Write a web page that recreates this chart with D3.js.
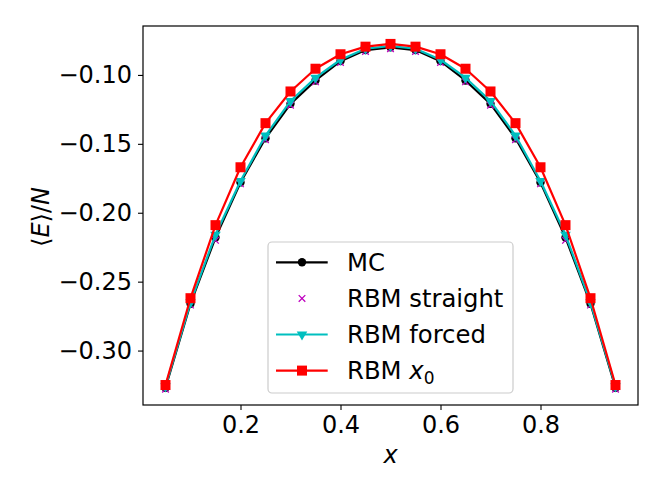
<!DOCTYPE html>
<html>
<head>
<meta charset="utf-8">
<script src="https://cdn.jsdelivr.net/npm/d3@7"></script>
<style>
  body { margin: 0; background: #fff; }
  svg { font-family: "DejaVu Sans", sans-serif; }
</style>
</head>
<body>
<svg id="chart" width="664" height="498"></svg>
<script>
const xs = [0.05, 0.10, 0.15, 0.20, 0.25, 0.30, 0.35, 0.40, 0.45, 0.50,
            0.55, 0.60, 0.65, 0.70, 0.75, 0.80, 0.85, 0.90, 0.95];
const mc       = [-0.327, -0.266, -0.218, -0.178, -0.146, -0.121, -0.104, -0.090, -0.082, -0.080,
                  -0.082, -0.090, -0.104, -0.121, -0.146, -0.178, -0.218, -0.266, -0.327];
const straight = [-0.328, -0.267, -0.220, -0.179, -0.147, -0.122, -0.105, -0.091, -0.083, -0.081,
                  -0.083, -0.091, -0.105, -0.122, -0.147, -0.179, -0.220, -0.267, -0.328];
const forced   = [-0.326, -0.265, -0.216, -0.177, -0.144, -0.119, -0.102, -0.089, -0.081, -0.079,
                  -0.081, -0.089, -0.102, -0.119, -0.144, -0.177, -0.216, -0.265, -0.326];
const x0       = [-0.325, -0.262, -0.209, -0.167, -0.135, -0.112, -0.0955, -0.085, -0.0795, -0.0775,
                  -0.0795, -0.085, -0.0955, -0.112, -0.135, -0.167, -0.209, -0.262, -0.325];
const xTicks = [0.2, 0.4, 0.6, 0.8];
const yTicks = [-0.30, -0.25, -0.20, -0.15, -0.10];

const mLeft = 143, mRight = 638, mTop = 26, mBottom = 405;

const svg = d3.select("#chart");

const x = d3.scaleLinear().domain([0.005, 0.995]).range([mLeft, mRight]);
const y = d3.scaleLinear().domain([-0.3395, -0.0645]).range([mBottom, mTop]);

// axes
svg.append("g")
    .attr("transform", `translate(0,${mBottom})`)
    .call(d3.axisBottom(x).tickValues(xTicks).tickSize(5).tickPadding(6)
        .tickFormat(d => d.toFixed(1)))
    .call(g => g.select(".domain").remove())
    .call(g => g.selectAll("line").attr("stroke", "#000").attr("stroke-width", 1.1))
    .call(g => g.selectAll("text").attr("font-size", 24).attr("fill", "#000")
        .attr("font-family", "DejaVu Sans"));

svg.append("g")
    .attr("transform", `translate(${mLeft},0)`)
    .call(d3.axisLeft(y).tickValues(yTicks).tickSize(5).tickPadding(6)
        .tickFormat(d => "\u2212" + Math.abs(d).toFixed(2)))
    .call(g => g.select(".domain").remove())
    .call(g => g.selectAll("line").attr("stroke", "#000").attr("stroke-width", 1.1))
    .call(g => g.selectAll("text").attr("font-size", 24).attr("fill", "#000")
        .attr("font-family", "DejaVu Sans"));

// series
const line = vals => d3.line().x((d, i) => x(xs[i])).y(d => y(d))(vals);

function drawLine(vals, color) {
    svg.append("path").attr("d", line(vals)).attr("fill", "none")
        .attr("stroke", color).attr("stroke-width", 2.2).attr("stroke-linejoin", "round");
}

// MC
drawLine(mc, "#000");
svg.append("g").selectAll("circle").data(mc).join("circle")
    .attr("cx", (d, i) => x(xs[i])).attr("cy", d => y(d)).attr("r", 4.2).attr("fill", "#000");

// RBM straight (markers only)
const cross = d3.symbol().type(d3.symbolX).size(30);
svg.append("g").selectAll("path").data(straight).join("path")
    .attr("d", cross)
    .attr("transform", (d, i) => `translate(${x(xs[i])},${y(d)})`)
    .attr("fill", "none").attr("stroke", "#bf00bf").attr("stroke-width", 1.3);

// RBM forced
drawLine(forced, "#00bfbf");
const tri = d3.symbol().type(d3.symbolTriangle).size(48);
svg.append("g").selectAll("path").data(forced).join("path")
    .attr("d", tri)
    .attr("transform", (d, i) => `translate(${x(xs[i])},${y(d)}) rotate(180)`)
    .attr("fill", "#00bfbf");

// RBM x0
drawLine(x0, "#ff0000");
svg.append("g").selectAll("rect").data(x0).join("rect")
    .attr("x", (d, i) => x(xs[i]) - 5).attr("y", d => y(d) - 5)
    .attr("width", 10).attr("height", 10).attr("fill", "#ff0000");

// frame
svg.append("rect").attr("x", mLeft).attr("y", mTop)
    .attr("width", mRight - mLeft).attr("height", mBottom - mTop)
    .attr("fill", "none").attr("stroke", "#000").attr("stroke-width", 1.2);

// axis labels
svg.append("text").attr("x", (mLeft + mRight) / 2).attr("y", 463)
    .attr("text-anchor", "middle").attr("font-size", 24).attr("font-style", "italic")
    .text("x");

const yl = svg.append("text")
    .attr("transform", `translate(49,217) rotate(-90)`)
    .attr("text-anchor", "middle").attr("font-size", 24);
yl.append("tspan").text("\u27E8");
yl.append("tspan").attr("font-style", "italic").text("E");
yl.append("tspan").text("\u27E9/");
yl.append("tspan").attr("font-style", "italic").text("N");

// legend
const legend = svg.append("g");
legend.append("rect").attr("x", 268).attr("y", 242).attr("width", 245).attr("height", 151)
    .attr("rx", 4).attr("fill", "#fff").attr("fill-opacity", 0.8)
    .attr("stroke", "#cccccc").attr("stroke-width", 1.2);

const entries = [
    {label: "MC", color: "#000", line: true, marker: "circle"},
    {label: "RBM straight", color: "#bf00bf", line: false, marker: "x"},
    {label: "RBM forced", color: "#00bfbf", line: true, marker: "tri"},
    {label: "RBM x0", color: "#ff0000", line: true, marker: "square"}
];

entries.forEach((e, i) => {
    const cy = 262.3 + i * 36.1;
    const g = legend.append("g");
    if (e.line) g.append("line").attr("x1", 276).attr("x2", 327.7).attr("y1", cy).attr("y2", cy)
        .attr("stroke", e.color).attr("stroke-width", 2.2);
    const mx = 302;
    if (e.marker === "circle") g.append("circle").attr("cx", mx).attr("cy", cy).attr("r", 4.2).attr("fill", e.color);
    if (e.marker === "x") g.append("path").attr("d", cross).attr("transform", `translate(${mx},${cy})`)
        .attr("fill", "none").attr("stroke", e.color).attr("stroke-width", 1.3);
    if (e.marker === "tri") g.append("path").attr("d", tri).attr("transform", `translate(${mx},${cy}) rotate(180)`)
        .attr("fill", e.color);
    if (e.marker === "square") g.append("rect").attr("x", mx - 5).attr("y", cy - 5).attr("width", 10).attr("height", 10)
        .attr("fill", e.color);
    const t = g.append("text").attr("x", 347).attr("y", cy + 8.8).attr("font-size", 24.3);
    if (e.label === "RBM x0") {
        t.append("tspan").text("RBM ");
        t.append("tspan").attr("font-style", "italic").text("x");
        t.append("tspan").attr("font-size", 17).attr("dy", 5).text("0");
    } else {
        t.text(e.label);
    }
});
</script>
</body>
</html>
